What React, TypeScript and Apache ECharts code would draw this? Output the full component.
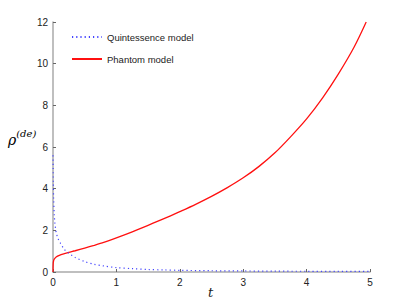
import React, { useEffect, useRef } from "react";
import * as echarts from "echarts";

const phantomT = [0, 0.003, 0.01, 0.02, 0.05, 0.1, 0.18, 0.25, 0.35, 0.5, 0.65, 0.8, 1.0, 1.25, 1.5, 1.75, 2.0, 2.25, 2.5, 2.75, 3.0, 3.25, 3.5, 3.75, 4.0, 4.25, 4.5, 4.75, 4.94];
const phantomV = [0, 0.4, 0.55, 0.62, 0.72, 0.8, 0.88, 0.94, 1.02, 1.15, 1.28, 1.42, 1.64, 1.93, 2.24, 2.56, 2.9, 3.25, 3.63, 4.05, 4.52, 5.07, 5.72, 6.5, 7.35, 8.35, 9.5, 10.8, 12.0];

const quintT = [0, 0.005, 0.01, 0.02, 0.03, 0.05, 0.08, 0.12, 0.18, 0.25, 0.35, 0.5, 0.65, 0.8, 1.0, 1.25, 1.5, 1.75, 2.0, 2.5, 3.0, 3.5, 4.0, 4.5, 5.0];
const quintV = [5.6, 4.3, 3.5, 2.75, 2.35, 1.9, 1.6, 1.37, 1.08, 0.9, 0.7, 0.5, 0.37, 0.29, 0.21, 0.16, 0.12, 0.1, 0.08, 0.06, 0.05, 0.04, 0.035, 0.03, 0.025];

const xTicks = [0, 1, 2, 3, 4, 5];
const yTicks = [0, 2, 4, 6, 8, 10, 12];
const seriesNames = ["Quintessence model", "Phantom model"];

export default function App() {
  const ref = useRef<HTMLDivElement>(null);
  useEffect(() => {
    if (!ref.current) return;
    const chart = echarts.init(ref.current, null, { renderer: "svg" });
    const labelFont = { fontFamily: "Liberation Sans, Arial, sans-serif", fontSize: 10, color: "#222" };
    chart.setOption({
      animation: false,
      backgroundColor: "#fff",
      grid: { left: 53, right: 39, top: 22, bottom: 35, containLabel: false },
      xAxis: {
        type: "value",
        min: xTicks[0],
        max: xTicks[xTicks.length - 1],
        interval: 1,
        axisLine: { onZero: false, lineStyle: { color: "#aaa", width: 1.5 } },
        axisTick: { inside: true, length: 3, lineStyle: { color: "#666" } },
        axisLabel: { ...labelFont, margin: 5 },
        splitLine: { show: false },
      },
      yAxis: {
        type: "value",
        min: yTicks[0],
        max: yTicks[yTicks.length - 1],
        interval: 2,
        axisLine: { show: true, onZero: false, lineStyle: { color: "#aaa", width: 1.5 } },
        axisTick: { show: true, inside: true, length: 3, lineStyle: { color: "#666" } },
        axisLabel: { ...labelFont, margin: 5 },
        splitLine: { show: false },
      },
      legend: {
        orient: "vertical",
        left: 66,
        top: 27,
        itemWidth: 30,
        itemHeight: 10,
        itemGap: 12,
        itemStyle: { opacity: 0 },
        textStyle: { ...labelFont, fontSize: 9.5 },
        data: seriesNames,
      },
      series: [
        {
          name: seriesNames[0],
          type: "line",
          symbol: "none",
          smooth: 0.3,
          data: quintT.map((t, i) => [t, quintV[i]]),
          lineStyle: { color: "#4444ff", width: 1.2, type: [1.2, 3] },
          itemStyle: { color: "#4444ff" },
          z: 3,
        },
        {
          name: seriesNames[1],
          type: "line",
          symbol: "none",
          smooth: 0.3,
          data: phantomT.map((t, i) => [t, phantomV[i]]),
          lineStyle: { color: "#ff1010", width: 1.3 },
          itemStyle: { color: "#ff1010" },
          z: 2,
        },
      ],
      graphic: [
        {
          type: "text",
          left: 8,
          top: 128,
          style: {
            text: "{r|ρ}{s|(de)}",
            rich: {
              r: { fontFamily: "DejaVu Serif, serif", fontStyle: "italic", fontSize: 14, color: "#222", verticalAlign: "bottom" },
              s: { fontFamily: "DejaVu Serif, serif", fontStyle: "italic", fontSize: 10, color: "#222", verticalAlign: "top", padding: [0, 0, 9, 0] },
            },
          },
        },
        {
          type: "text",
          left: 208,
          top: 286,
          style: { text: "t", fontFamily: "DejaVu Serif, serif", fontStyle: "italic", fontSize: 13, fill: "#222" },
        },
      ],
    });
    return () => chart.dispose();
  }, []);
  return <div ref={ref} style={{ width: 409, height: 307, position: "absolute", left: 0, top: 0 }} />;
}
